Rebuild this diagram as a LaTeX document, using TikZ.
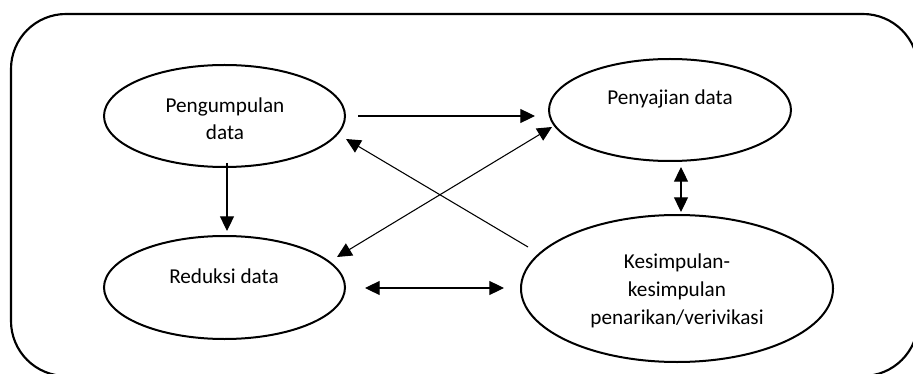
\documentclass[tikz,border=0pt]{standalone}
\usepackage{fontspec}
\setmainfont{Carlito}
\usetikzlibrary{shapes.geometric,arrows.meta}
\begin{document}
\begin{tikzpicture}[x=0.75pt,y=-0.75pt,
  oval/.style={draw,ellipse,line width=1.5pt,inner sep=0pt},
  lbl/.style={anchor=base,align=center,inner sep=0pt,font=\fontsize{15.9}{20.7}\selectfont},
  arr/.style={line width=0.8pt,-{Triangle[length=11pt,width=10.5pt]}},
  darr/.style={line width=0.8pt,{Triangle[length=11pt,width=10.5pt]}-{Triangle[length=11pt,width=10.5pt]}}]
\useasboundingbox (0,0) rectangle (913,374);
\draw[line width=1.6pt,rounded corners=41.25pt] (11,14) rectangle (918,376);
% ellipses
\node[oval,minimum width=241*0.75pt,minimum height=102*0.75pt] (pg) at (224.5,116) {};
\node[oval,minimum width=241*0.75pt,minimum height=103*0.75pt] (rd) at (224.5,287.5) {};
\node[oval,minimum width=242*0.75pt,minimum height=102*0.75pt] (pj) at (670,110) {};
\node[oval,minimum width=312*0.75pt,minimum height=147*0.75pt] (ks) at (677,288.5) {};
% labels (base = last line's baseline)
\node[lbl] (tpg) at (225,140) {Pengumpulan\\data};
\node[lbl] (trd) at (224,283) {Reduksi data};
\node[lbl] (tpj) at (670,105) {Penyajian data};
\node[lbl] (tks) at (677,324) {Kesimpulan-\\kesimpulan\\penarikan/verivikasi};
% connector ends
\coordinate (c1a) at (358,116);
\coordinate (c1b) at (535,116);
\coordinate (c2a) at (227,163);
\coordinate (c2b) at (227,231);
\coordinate (c3a) at (528,247);
\coordinate (c3b) at (346,139);
\coordinate (c4a) at (337,257);
\coordinate (c4b) at (552,127);
\coordinate (c5a) at (365,288);
\coordinate (c5b) at (504,288);
\coordinate (c6a) at (681,167);
\coordinate (c6b) at (681,212);
% connectors
\draw[arr] (c1a) -- (c1b);
\draw[arr] (c2a) -- (c2b);
\draw[arr] (c3a) -- (c3b);
\draw[darr] (c4a) -- (c4b);
\draw[darr] (c5a) -- (c5b);
\draw[darr] (c6a) -- (c6b);
\end{tikzpicture}
\end{document}
